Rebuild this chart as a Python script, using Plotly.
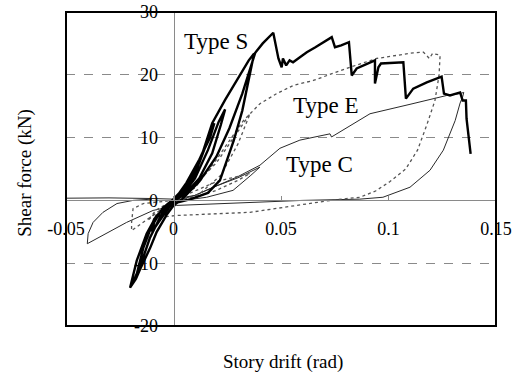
import plotly.graph_objects as go

# ---------------- data ----------------
# Type S  (thick black)
s_x = [0, 0.004, 0.008, 0.005, 0, -0.004, -0.006, -0.003, 0,
       0.006, 0.012, 0.014, 0.010, 0.005, 0, -0.005, -0.009, -0.010, -0.007, -0.003, 0,
       0.006, 0.012, 0.017, 0.019, 0.016, 0.012, 0.007, 0.002, -0.004, -0.009, -0.014,
       -0.017, -0.019, -0.015, -0.011, -0.006, -0.002, 0.002,
       0.004, 0.010, 0.016, 0.021, 0.024, 0.022, 0.018, 0.012, 0.004,
       0.006, 0.009, 0.013, 0.018, 0.024, 0.030, 0.035, 0.0375, 0.036, 0.032, 0.028,
       0.0216, 0.016, 0.008, 0.002, -0.004, -0.008, -0.0125, -0.0171, -0.0202, -0.0175,
       -0.0156, -0.0109, -0.0078, -0.0032, 0, 0.004, 0.012, 0.020, 0.026, 0.032, 0.036,
       0.038, 0.0415, 0.0464, 0.0488, 0.0503, 0.0509, 0.0524, 0.054, 0.0556, 0.058,
       0.062, 0.066, 0.070, 0.0736, 0.0751, 0.078, 0.0816, 0.0829, 0.0852, 0.0914,
       0.0937, 0.0937, 0.0953, 0.0965, 0.1060, 0.1069, 0.1081, 0.1115, 0.1178, 0.1240,
       0.1247, 0.1258, 0.1286, 0.1333, 0.1345, 0.1360, 0.1363, 0.1382]
s_y = [0, 1.5, 3.5, 2, 0, -1.5, -2.5, -1.5, 0,
       2.5, 6, 8, 5, 2, 0.2, -1.2, -3.5, -5, -3.5, -1.5, 0,
       2.8, 6.5, 10, 12.3, 9.5, 6, 2.5, 0.3, -1, -3, -7.5,
       -11.6, -13.2, -10, -6, -2.5, -0.8, 0.3,
       0.8, 3.5, 8, 12.5, 14.5, 12, 7.5, 3.5, 0.5,
       2, 3.2, 7, 12.3, 16, 19.5, 22.3, 23.4, 21, 14.3, 9.5,
       3.2, 1.2, 0.2, -0.3, -1.2, -2.5, -5.3, -9.6, -13.9, -12.5,
       -11, -7.6, -5, -2.3, -0.8, 0.2, 3, 7, 11.5, 17, 21.5,
       23.5, 25, 26.7, 22.6, 21.2, 22.6, 21.5, 22.3, 22.0, 22.6,
       23.6, 24.4, 25.2, 26.0, 24.4, 24.7, 25.2, 19.9, 21.0, 22.0,
       22.3, 18.6, 21.2, 21.8, 22.0, 22.0, 16.2, 17.8, 18.8, 19.6,
       19.7, 17.0, 16.7, 17.2, 15.9, 15.9, 13.0, 7.4]

# Type E  (dotted grey)
e_x = [0, 0.010, 0.020, 0.0356, 0.030, 0.020, 0.010, 0, -0.008, -0.012, -0.008, 0,
       0.010, 0.020, 0.028, 0.0356, 0.030, 0.022, 0.012, 0, -0.006, -0.012, -0.0195,
       -0.0195, -0.0188, -0.014, -0.006, 0,
       0.010, 0.020, 0.028, 0.0325, 0.0402, 0.048, 0.0557, 0.065, 0.0821, 0.0945,
       0.1115, 0.1163, 0.1190, 0.1205, 0.1230, 0.1240, 0.1235, 0.1216, 0.1178, 0.1135,
       0.1080, 0.1007, 0.0940, 0.0867, 0.0750, 0.0635, 0.0356, 0.0015, -0.004]
e_y = [0, 1.5, 3, 4.3, 3.2, 1.6, 0.5, 0, -2, -3.2, -1.5, 0,
       2.5, 6, 10, 13.8, 9, 4, 1, -0.5, -1.5, -3, -4.8,
       -3.5, -1.3, -0.5, -0.2, 0,
       2, 6.5, 10.5, 12.7, 15.4, 17.0, 18.3, 19.1, 21.2, 22.6,
       23.5, 23.6, 22.6, 23.4, 23.2, 23.1, 19.9, 15.9, 12.0, 8.0,
       5.0, 3.0, 1.5, 0.5, 0.1, -0.5, -1.9, -2.4, -2.6]

# Type C  (thin black)
c_x = [-0.05, -0.03, -0.01, 0,
       0.010, 0.0184, 0.030, 0.0402, 0.036, 0.0277, 0.0154, 0.005, 0,
       0.010, 0.020, 0.030, 0.0402, 0.0495, 0.0588, 0.0728, 0.0735, 0.0914, 0.110,
       0.127, 0.1333, 0.1350, 0.1345, 0.1333, 0.1310, 0.1280, 0.1255, 0.1193, 0.110,
       0.0974, 0.0867, 0.060, 0.0356, 0.0015, -0.0095, -0.0218, -0.0401, -0.0397,
       -0.0374, -0.0328, -0.0263, -0.0188, -0.010]
c_y = [0.35, 0.4, 0.3, 0.2,
       0.8, 2.1, 3.6, 5.3, 4.0, 1.6, 0.5, 0, -0.2,
       0.8, 2.3, 3.8, 5.6, 8.3, 9.6, 10.6, 10.1, 13.8, 15.3,
       16.7, 17.0, 17.2, 16.5, 15.5, 12.7, 10.0, 8.0, 4.8, 2.1,
       0.5, 0.2, 0.0, -0.3, -0.8, -1.6, -3.5, -6.9, -5.3,
       -3.5, -1.9, -0.5, 0.0, 0.2]

x_ticks = [-0.05, 0, 0.05, 0.1, 0.15]
x_tick_text = ["-0.05", "0", "0.05", "0.1", "0.15"]
y_ticks = [-20, -10, 0, 10, 20, 30]
y_tick_text = ["-20", "-10", "0", "10", "20", "30"]

labels = ["Type S", "Type E", "Type C"]
label_x = [0.0198, 0.0705, 0.068]
label_y = [25.3, 15.1, 5.7]

# ---------------- figure ----------------
FONT = "Liberation Serif, Times New Roman, serif"

fig = go.Figure()
fig.add_trace(go.Scatter(x=c_x, y=c_y, mode="lines",
                         line=dict(color="#2a2a2a", width=1), hoverinfo="skip"))
fig.add_trace(go.Scatter(x=e_x, y=e_y, mode="lines",
                         line=dict(color="#555555", width=1.3, dash="dot"), hoverinfo="skip"))
fig.add_trace(go.Scatter(x=s_x, y=s_y, mode="lines",
                         line=dict(color="#000000", width=2.4), hoverinfo="skip"))

for t, lx, ly in zip(labels, label_x, label_y):
    fig.add_annotation(x=lx, y=ly, text=t, showarrow=False,
                       xanchor="center", yanchor="middle",
                       font=dict(family=FONT, size=23, color="black"))

fig.add_annotation(xref="paper", yref="paper", x=-0.096, y=0.487,
                   text="Shear force (kN)", textangle=-90, showarrow=False,
                   xanchor="center", yanchor="middle",
                   font=dict(family=FONT, size=19, color="black"))
fig.add_annotation(xref="paper", yref="paper", x=0.5035, y=-0.115,
                   text="Story drift (rad)", showarrow=False,
                   xanchor="center", yanchor="middle",
                   font=dict(family=FONT, size=19, color="black"))

fig.add_shape(type="rect", xref="paper", yref="paper", x0=0, x1=1, y0=0, y1=1,
              line=dict(color="black", width=2), layer="above")

fig.update_layout(
    width=525, height=374,
    margin=dict(l=66, r=29, t=12, b=48, autoexpand=False),
    paper_bgcolor="white", plot_bgcolor="white",
    showlegend=False,
    font=dict(family=FONT, size=18, color="black"),
    xaxis=dict(range=[-0.05, 0.15], anchor="free", position=0.4,
               tickvals=x_ticks, ticktext=x_tick_text,
               showgrid=False, zeroline=False,
               showline=True, linecolor="#8a8a8a", linewidth=1,
               ticks="inside", ticklen=4, tickcolor="#8a8a8a",
               ticklabelstandoff=12, automargin=False,
               tickfont=dict(family=FONT, size=18, color="black")),
    yaxis=dict(range=[-20, 30], anchor="free", position=0.25,
               tickvals=y_ticks, ticktext=y_tick_text,
               showgrid=True, gridcolor="#8a8a8a", gridwidth=1, griddash="dash",
               zeroline=False,
               showline=True, linecolor="#8a8a8a", linewidth=1,
               ticks="", ticklabelstandoff=12, automargin=False,
               tickfont=dict(family=FONT, size=18, color="black")),
)

fig.write_html("out.html", config={"displayModeBar": False, "staticPlot": True})

# remove the browser's default page margin so the figure sits at (0, 0)
with open("out.html", "r", encoding="utf-8") as fh:
    page = fh.read()
page = page.replace("<head>", "<head><style>html,body{margin:0;padding:0;overflow:hidden;}</style>", 1)
with open("out.html", "w", encoding="utf-8") as fh:
    fh.write(page)
